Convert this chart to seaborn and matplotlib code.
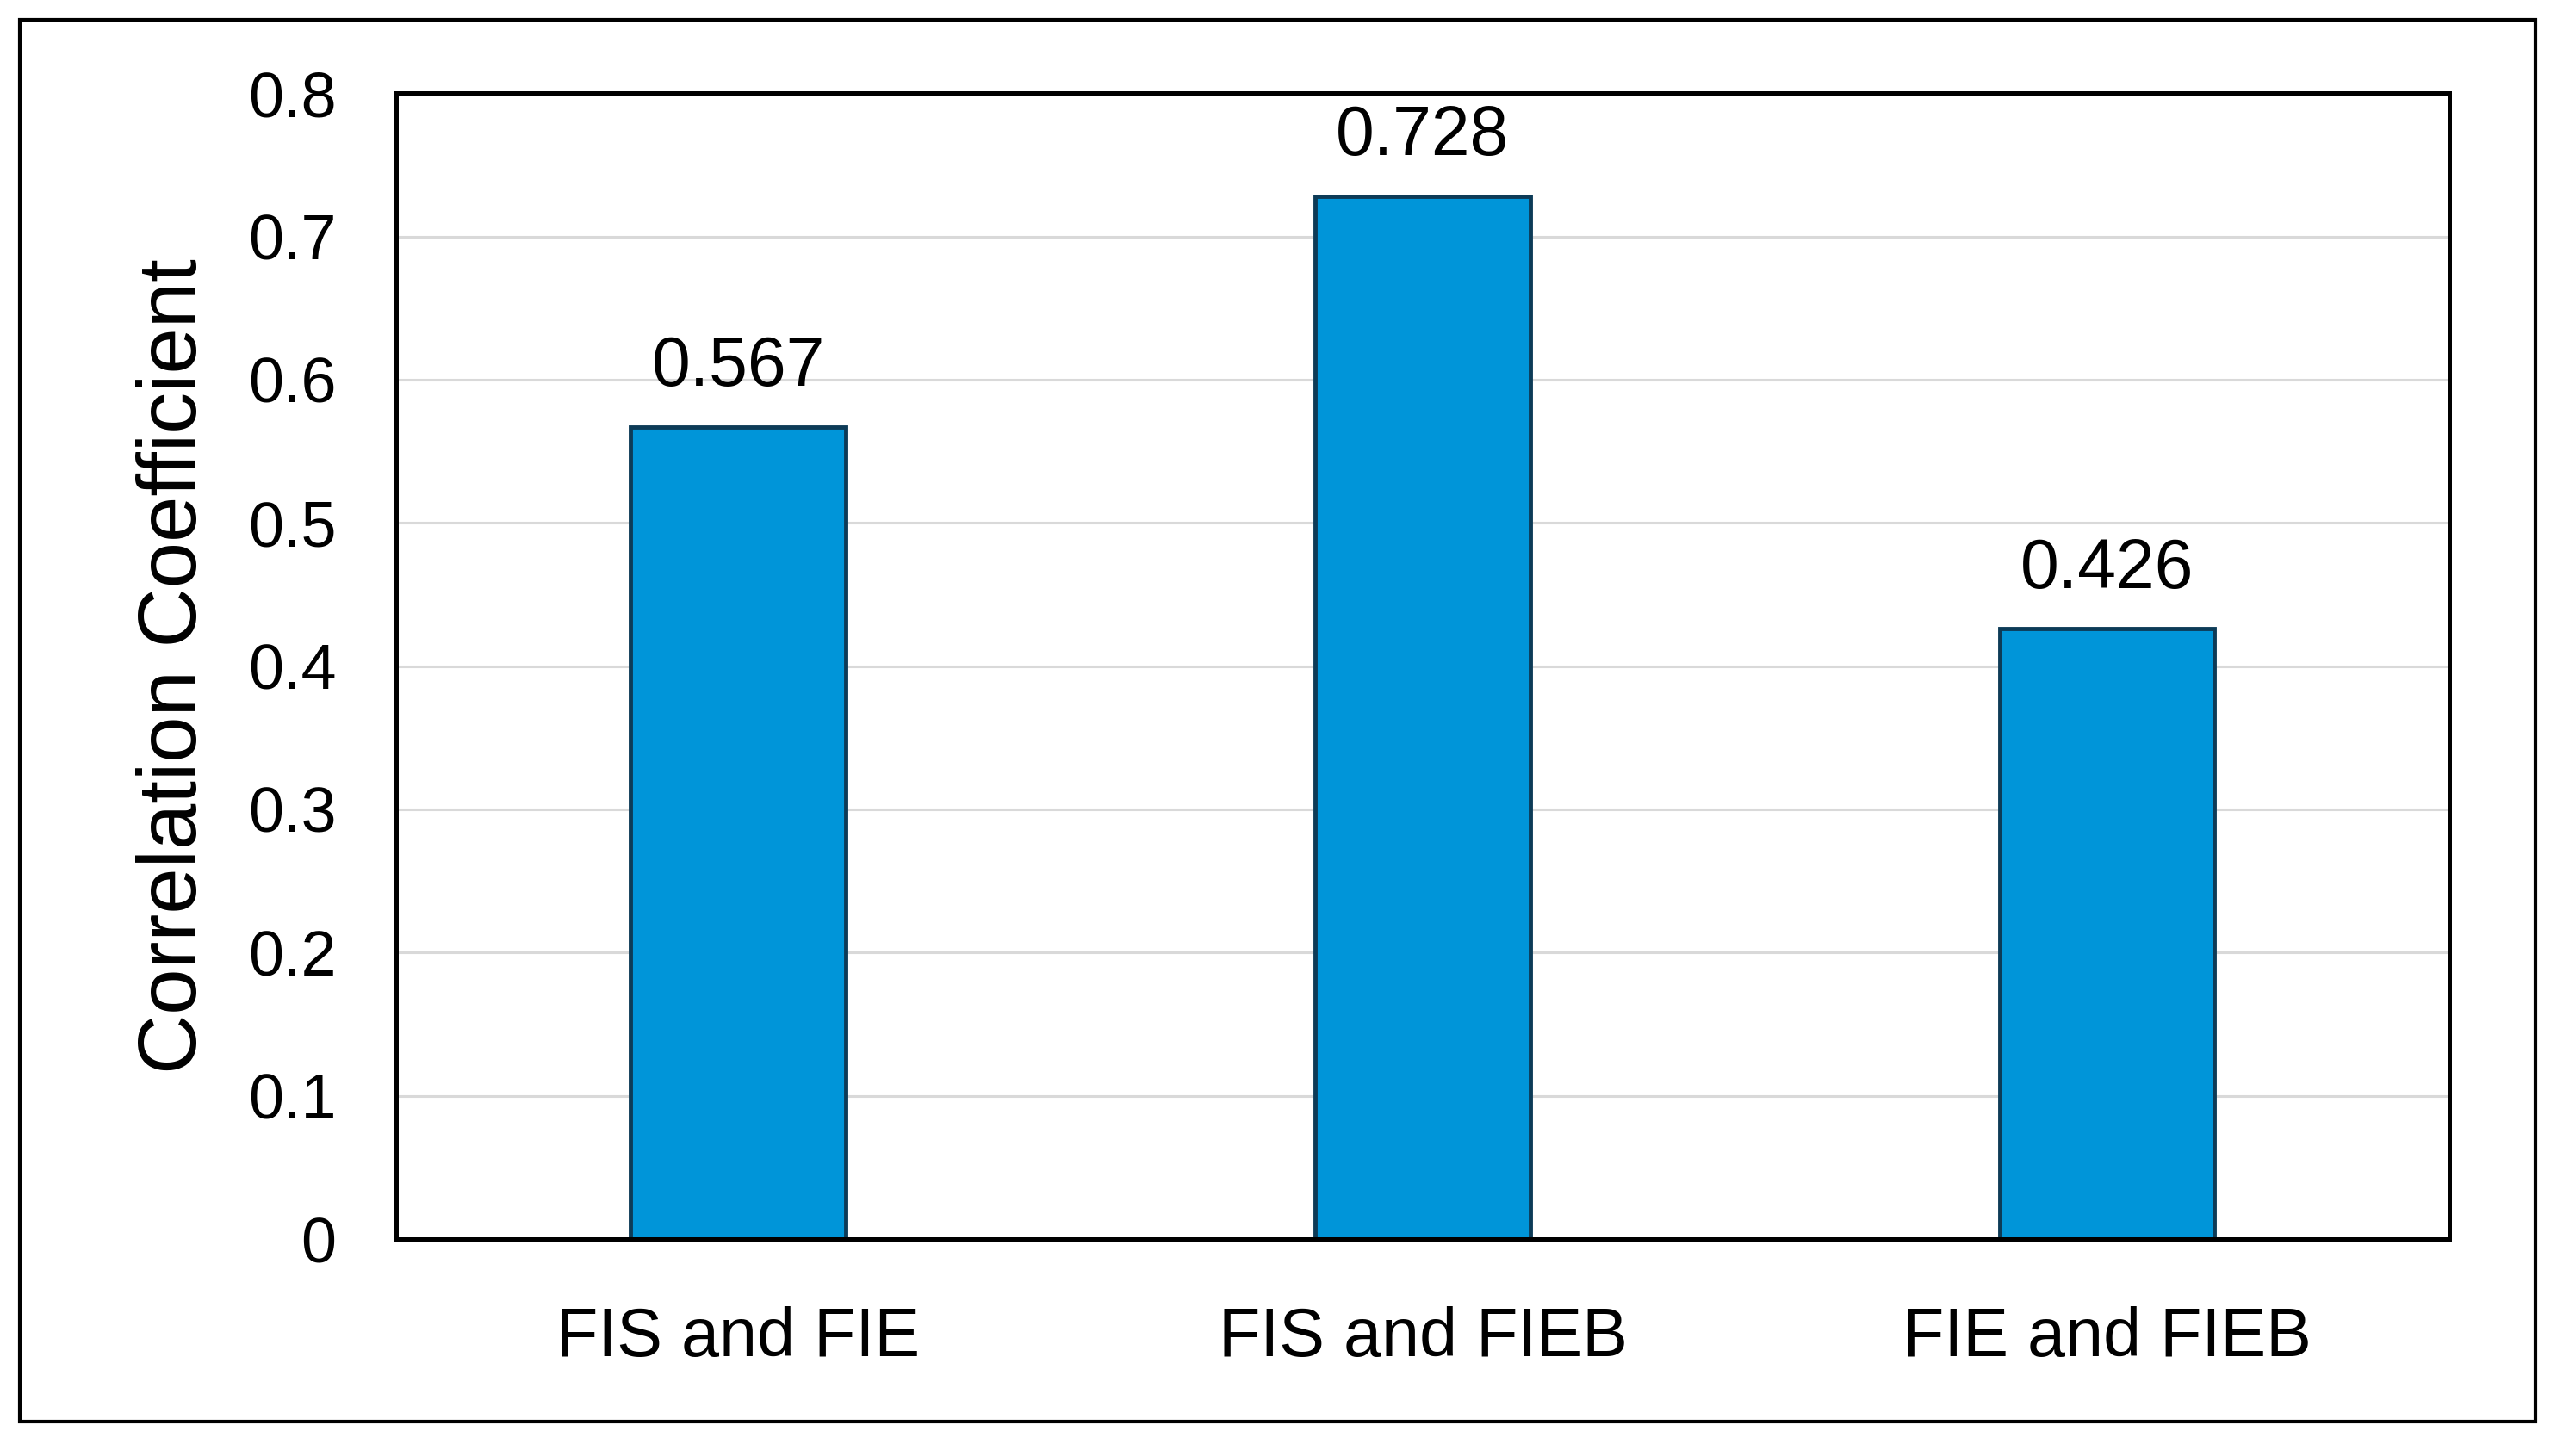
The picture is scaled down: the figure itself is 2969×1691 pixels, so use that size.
import numpy as np
import pandas as pd
import seaborn as sns
import matplotlib.pyplot as plt
from matplotlib.patches import Rectangle

# dados do gráfico
pares = ["FIS and FIE", "FIS and FIEB", "FIE and FIEB"]
coeficientes = [0.567, 0.728, 0.426]
rotulos_valor = ["0.567", "0.728", "0.426"]
marcas_y = [0, 0.1, 0.2, 0.3, 0.4, 0.5, 0.6, 0.7, 0.8]
rotulos_y = ["0", "0.1", "0.2", "0.3", "0.4", "0.5", "0.6", "0.7", "0.8"]

df = pd.DataFrame({"par": pares, "coef": coeficientes})

sns.set_style("white")
plt.rcParams['font.family'] = ['Liberation Sans', 'DejaVu Sans']
plt.rcParams['text.color'] = 'black'
plt.rcParams['axes.labelcolor'] = 'black'
plt.rcParams['xtick.color'] = 'black'
plt.rcParams['ytick.color'] = 'black'

fig = plt.figure(figsize=(29.69, 16.91), dpi=100)
ax = fig.add_axes([0.1549, 0.149, 0.803, 0.787])

sns.barplot(data=df, x="par", y="coef", color="#0095D9", saturation=1,
            edgecolor="#0D3B57", linewidth=3.5, width=0.314, ax=ax)

ax.set_xlim(-0.5, 2.5)
ax.set_ylim(0, 0.8)
ax.set_yticks(marcas_y)
ax.set_yticklabels(rotulos_y)
ax.set_axisbelow(True)
ax.yaxis.grid(True, color="#D9D9D9", linewidth=2.2)
ax.xaxis.grid(False)

ax.tick_params(axis="y", length=0, pad=50, labelsize=53)
ax.tick_params(axis="x", length=0, pad=56, labelsize=57)
ax.set_xlabel("")
ax.set_ylabel("Correlation Coefficient", fontsize=69)
ax.yaxis.set_label_coords(-0.089, 0.5)

for s in ax.spines.values():
    s.set_visible(True)
    s.set_color("black")
    s.set_linewidth(3.6)

ax.bar_label(ax.containers[0], labels=rotulos_valor, padding=22, fontsize=58)

# moldura externa
fig.patches.append(Rectangle((0.0077, 0.0237), 0.9839, 0.9627, transform=fig.transFigure,
                             fill=False, edgecolor="black", linewidth=3))

fig.savefig("out.png", dpi=100)
